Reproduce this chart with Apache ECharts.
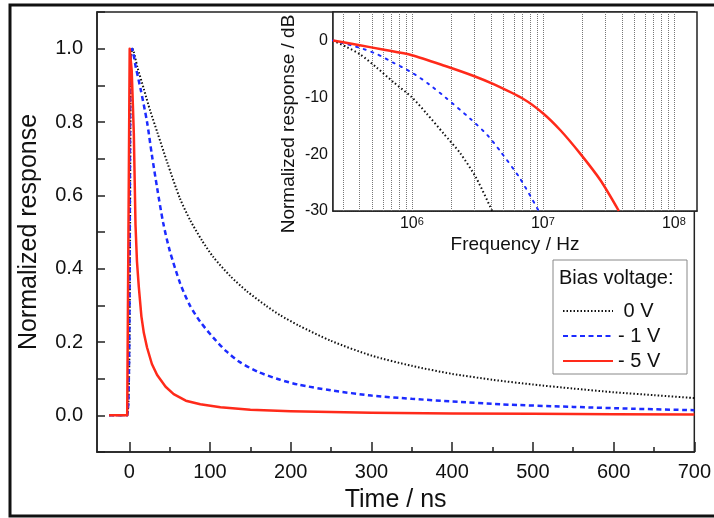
<!DOCTYPE html>
<html><head><meta charset="utf-8">
<script src="https://cdn.jsdelivr.net/npm/echarts@6/dist/echarts.min.js"></script>
<style>html,body{margin:0;padding:0;background:#fff}#c{width:714px;height:518px}</style>
</head><body><div id="c"></div>
<script>
const FONT = "'Liberation Sans', Arial, sans-serif";

// ---- main panel: time response ----
const tBlack = [-25, -2.6, 2, 4, 10, 18, 26, 35, 47, 63, 76, 90, 104, 125, 146, 170, 187, 209, 250, 300, 350, 400, 450, 500, 550, 600, 650, 700];
const vBlack = [0, 0, 0.97, 1.0, 0.95, 0.89, 0.83, 0.77, 0.69, 0.59, 0.53, 0.477, 0.432, 0.38, 0.338, 0.298, 0.273, 0.246, 0.203, 0.163, 0.135, 0.113, 0.097, 0.084, 0.073, 0.063, 0.055, 0.047];
const tBlue = [-25, -2.6, 1.5, 3.5, 8, 14, 22, 28, 34.5, 42, 50, 63, 75, 88, 104, 120, 137, 160, 187, 209, 250, 300, 350, 400, 460, 550, 625, 700];
const vBlue = [0, 0, 0.97, 1.0, 0.95, 0.89, 0.80, 0.71, 0.62, 0.525, 0.45, 0.36, 0.30, 0.255, 0.212, 0.175, 0.145, 0.118, 0.097, 0.084, 0.068, 0.054, 0.045, 0.038, 0.030, 0.023, 0.018, 0.014];
const tRed = [-25, -2.6, 0.5, 3, 5.6, 7.7, 9.5, 11.8, 15, 18, 22, 28, 34.5, 45, 55, 70, 88, 113, 150, 200, 300, 400, 500, 600, 700];
const vRed = [0, 0, 1.0, 0.94, 0.77, 0.52, 0.42, 0.35, 0.27, 0.225, 0.185, 0.14, 0.11, 0.078, 0.058, 0.04, 0.03, 0.022, 0.015, 0.011, 0.007, 0.005, 0.004, 0.003, 0.002];

// ---- inset: frequency response ----
const fBlack = [2.5e5, 3.2e5, 4e5, 5.4e5, 7.2e5, 1.0e6, 1.3e6, 1.75e6, 2.35e6, 3.1e6, 4.1e6];
const dbBlack = [0, -1.2, -2.4, -4.8, -7.3, -10, -12.9, -16.4, -19.9, -24.2, -30];
const fBlue = [2.5e5, 4e5, 5.4e5, 7.2e5, 1e6, 1.35e6, 1.8e6, 2.8e6, 3.75e6, 4.7e6, 6.7e6, 9.3e6];
const dbBlue = [0, -1.3, -2.4, -3.9, -5.65, -7.7, -10, -13.8, -16.6, -19.4, -24.3, -30];
const fRed = [2.5e5, 4e5, 6e5, 1e6, 1.8e6, 3e6, 4.2e6, 7.1e6, 1e7, 1.36e7, 1.94e7, 2.75e7, 3.8e7];
const dbRed = [0, -0.85, -1.6, -2.6, -4.5, -6.3, -7.7, -10.3, -12.8, -15.8, -20, -24.6, -30];

// ---- names and ticks ----
const seriesNames = ['0 V', '- 1 V', '- 5 V'];
const legendTitle = 'Bias voltage:';
const insetYName = 'Normalized response / dB';
const xMajorTicks = [0, 100, 200, 300, 400, 500, 600, 700];
const xMinorTicks = [50, 150, 250, 350, 450, 550, 650];
const yLabelValues = [0, 0.2, 0.4, 0.6, 0.8, 1.0];
const insetFreqGrid = [3e5, 4e5, 5e5, 6e5, 7e5, 8e5, 9e5, 1e6, 2e6, 3e6, 4e6, 5e6, 6e6, 7e6, 8e6, 9e6, 1e7, 2e7, 3e7, 4e7, 5e7, 6e7, 7e7, 8e7, 9e7, 1e8];

const pairs = (xs, ys) => xs.map((x, i) => [x, ys[i]]);
const AX = '#222';
const GRIDC = '#777';

const chart = echarts.init(document.getElementById('c'), null, {renderer: 'canvas'});
chart.setOption({
  animation: false,
  backgroundColor: '#fff',
  textStyle: {fontFamily: FONT},
  grid: [
    {left: 97, right: 17, top: 12, bottom: 66, show: true, borderColor: AX, borderWidth: 1.5, backgroundColor: 'transparent'},
    {left: 333, right: 17, top: 12, bottom: 307, show: true, borderColor: AX, borderWidth: 1.5, backgroundColor: '#fff', z: 1}
  ],
  xAxis: [
    {type: 'value', gridIndex: 0, min: -40, max: 700,
     axisLine: {onZero: false, lineStyle: {color: AX, width: 1.5}},
     axisTick: {inside: true, length: 10, customValues: xMajorTicks, lineStyle: {color: AX, width: 1.5}},
     axisLabel: {customValues: xMajorTicks, fontSize: 20, color: '#111', margin: 10, fontFamily: FONT},
     splitLine: {show: false},
     name: 'Time / ns', nameLocation: 'middle', nameGap: 36,
     nameTextStyle: {fontSize: 25, color: '#111', fontFamily: FONT}},
    {type: 'value', gridIndex: 0, position: 'bottom', min: -40, max: 700,
     axisLine: {show: false, onZero: false},
     axisTick: {inside: true, length: 5, customValues: xMinorTicks, lineStyle: {color: AX, width: 1.5}},
     axisLabel: {show: false}, splitLine: {show: false}},
    {type: 'log', logBase: 10, gridIndex: 1, min: 2.5e5, max: 1.5e8,
     axisLine: {onZero: false, lineStyle: {color: AX, width: 1.5}},
     axisTick: {show: false}, splitLine: {show: false},
     axisLabel: {showMinLabel: false, showMaxLabel: false, margin: 5, fontSize: 16, color: '#111', fontFamily: FONT,
       formatter: v => { const e = Math.log10(v); const r = Math.round(e); return Math.abs(e - r) < 1e-6 ? '10{s|' + r + '}' : ''; },
       rich: {s: {fontSize: 11, verticalAlign: 'top', color: '#111', fontFamily: FONT}}},
     name: 'Frequency / Hz', nameLocation: 'middle', nameGap: 24,
     nameTextStyle: {fontSize: 19, color: '#111', fontFamily: FONT}}
  ],
  yAxis: [
    {type: 'value', gridIndex: 0, min: -0.1, max: 1.1, interval: 0.1,
     axisLine: {onZero: false, lineStyle: {color: AX, width: 1.5}},
     axisTick: {inside: true, length: 8, lineStyle: {color: AX, width: 1.5}},
     axisLabel: {customValues: yLabelValues, formatter: v => v.toFixed(1), fontSize: 20, color: '#111', margin: 14, fontFamily: FONT},
     splitLine: {show: false},
     name: 'Normalized response', nameLocation: 'middle', nameGap: 55,
     nameTextStyle: {fontSize: 25, color: '#111', fontFamily: FONT}},
    {type: 'value', gridIndex: 1, min: -30, max: 5, interval: 5,
     axisLine: {onZero: false, lineStyle: {color: AX, width: 1.5}},
     axisTick: {show: false},
     axisLabel: {formatter: v => (v % 10 === 0 ? String(v) : ''), fontSize: 16, color: '#111', margin: 5, fontFamily: FONT},
     splitLine: {lineStyle: {type: 'dotted', color: GRIDC, width: 1}}}
  ],
  legend: {
    data: seriesNames, orient: 'vertical', left: 557, top: 296,
    itemWidth: 50, itemHeight: 14, itemGap: 5, selectedMode: false, z: 10,
    itemStyle: {opacity: 0},
    formatter: n => (n === '0 V' ? ' ' + n : n),
    textStyle: {fontSize: 20, color: '#111', fontFamily: FONT, lineHeight: 20}
  },
  graphic: [
    {type: 'rect', z: 5, shape: {x: 553, y: 260, width: 134, height: 114}, style: {fill: '#fff', stroke: '#888', lineWidth: 1}},
    {type: 'text', z: 6, x: 559, y: 268, style: {text: legendTitle, fontSize: 20, fill: '#111', fontFamily: FONT}},
    {type: 'text', z: 6, x: 289, y: 124, rotation: Math.PI / 2,
     style: {text: insetYName, fontSize: 19, fill: '#111', fontFamily: FONT, textAlign: 'center', textVerticalAlign: 'middle'}},
    {type: 'rect', z: 20, silent: true, shape: {x: 10, y: 5, width: 720, height: 511}, style: {fill: 'none', stroke: '#111', lineWidth: 3}}
  ],
  series: [
    {name: seriesNames[0], type: 'line', xAxisIndex: 0, yAxisIndex: 0, data: pairs(tBlack, vBlack),
     symbol: 'none', showSymbol: false, smooth: 0.25,
     itemStyle: {color: '#111'}, lineStyle: {color: '#111', width: 2, type: [1.5, 2]}, z: 2},
    {name: seriesNames[1], type: 'line', xAxisIndex: 0, yAxisIndex: 0, data: pairs(tBlue, vBlue),
     symbol: 'none', showSymbol: false, smooth: 0.25,
     itemStyle: {color: '#1c2bff'}, lineStyle: {color: '#1c2bff', width: 2.5, type: [5, 3.5]}, z: 3},
    {name: seriesNames[2], type: 'line', xAxisIndex: 0, yAxisIndex: 0, data: pairs(tRed, vRed),
     symbol: 'none', showSymbol: false, smooth: false,
     itemStyle: {color: '#ff2a1a'}, lineStyle: {color: '#ff2a1a', width: 2.5, join: 'round'}, z: 4},
    {name: 'f ' + seriesNames[0], type: 'line', xAxisIndex: 2, yAxisIndex: 1, data: pairs(fBlack, dbBlack),
     symbol: 'none', showSymbol: false, smooth: 0.25,
     lineStyle: {color: '#111', width: 2, type: [1.5, 2.5]}, z: 3,
     markLine: {silent: true, symbol: ['none', 'none'], z: 1, label: {show: false},
       lineStyle: {type: 'dotted', color: GRIDC, width: 1},
       emphasis: {disabled: true},
       data: insetFreqGrid.map(f => ({xAxis: f}))}},
    {name: 'f ' + seriesNames[1], type: 'line', xAxisIndex: 2, yAxisIndex: 1, data: pairs(fBlue, dbBlue),
     symbol: 'none', showSymbol: false, smooth: 0.25,
     lineStyle: {color: '#1c2bff', width: 2, type: [2, 6], cap: 'round'}, z: 3},
    {name: 'f ' + seriesNames[2], type: 'line', xAxisIndex: 2, yAxisIndex: 1, data: pairs(fRed, dbRed),
     symbol: 'none', showSymbol: false, smooth: 0.25,
     lineStyle: {color: '#ff2a1a', width: 2.5}, z: 4}
  ]
});
</script></body></html>
